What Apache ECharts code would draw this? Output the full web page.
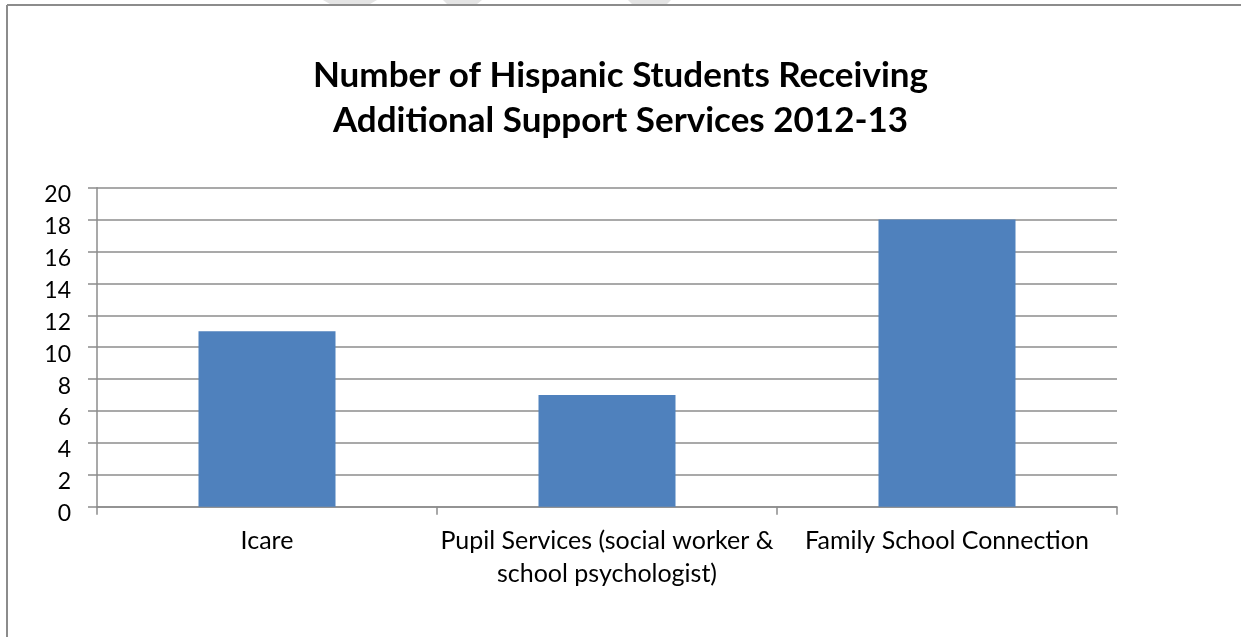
<!DOCTYPE html>
<html>
<head>
<meta charset="utf-8">
<script src="https://cdn.jsdelivr.net/npm/echarts@6/dist/echarts.min.js"></script>
<style>
  html, body { margin: 0; padding: 0; background: #fff; }
  #chart { width: 1241px; height: 637px; }
</style>
</head>
<body>
<div id="chart"></div>
<script>
// Support programmes and how many Hispanic students each one served
const categories = ['Icare', 'Pupil Services (social worker &\nschool psychologist)', 'Family School Connection'];
const students = [11, 7, 18];
const yTicks = { min: 0, max: 20, interval: 2 };
const titleLines = ['Number of Hispanic Students Receiving', 'Additional Support Services 2012-13'];

const FONT = 'Lato';
const GRAY = '#8c8c8c';

const chart = echarts.init(document.getElementById('chart'));
chart.setOption({
  animation: false,
  backgroundColor: '#fff',
  title: {
    text: titleLines.join('\n'),
    left: 'center',
    top: 48,
    textStyle: { fontFamily: FONT, fontWeight: 'bold', fontSize: 35, lineHeight: 45, color: '#000' }
  },
  graphic: [
    // chart-area frame (top and left edges)
    { type: 'line', shape: { x1: 7, y1: 5, x2: 1241, y2: 5 }, style: { stroke: GRAY, lineWidth: 2 }, silent: true },
    { type: 'line', shape: { x1: 7, y1: 5, x2: 7, y2: 637 }, style: { stroke: GRAY, lineWidth: 2 }, silent: true },
    // faint shapes along the top edge
    { type: 'polygon', shape: { points: [[323, 0], [377, 0], [370, 4], [330, 4]] }, style: { fill: '#e4e4e4' }, silent: true },
    { type: 'polygon', shape: { points: [[443, 0], [482, 0], [477, 4], [447, 4]] }, style: { fill: '#e4e4e4' }, silent: true },
    { type: 'polygon', shape: { points: [[628, 0], [671, 0], [667, 4], [632, 4]] }, style: { fill: '#e4e4e4' }, silent: true }
  ],
  grid: { left: 97, right: 124, top: 187.7, bottom: 130.3, containLabel: false },
  xAxis: {
    type: 'category',
    data: categories,
    axisLine: { show: true, lineStyle: { color: GRAY, width: 1.5 } },
    axisTick: { show: true, length: 8, lineStyle: { color: GRAY, width: 1.5 } },
    axisLabel: { fontFamily: FONT, fontSize: 25, color: '#000', margin: 18, lineHeight: 33, interval: 0 }
  },
  yAxis: {
    type: 'value',
    min: yTicks.min,
    max: yTicks.max,
    interval: yTicks.interval,
    axisLine: { show: true, lineStyle: { color: GRAY, width: 1.5 } },
    axisTick: { show: true, length: 9, lineStyle: { color: GRAY, width: 1.5 } },
    splitLine: { show: true, lineStyle: { color: GRAY, width: 1.5 } },
    axisLabel: { fontFamily: FONT, fontSize: 23, color: '#000', margin: 26, verticalAlign: 'top', lineHeight: 14 }
  },
  series: [{
    type: 'bar',
    data: students,
    barWidth: 137,
    itemStyle: { color: '#4f81bd' }
  }]
});
</script>
</body>
</html>
